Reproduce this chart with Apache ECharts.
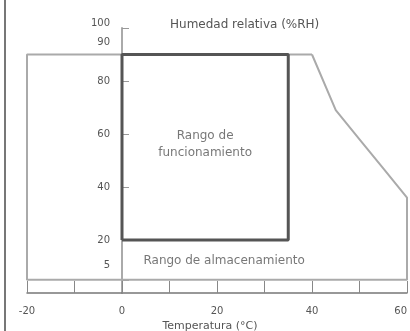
<!DOCTYPE html>
<html>
<head>
<meta charset="utf-8">
<script src="https://cdn.jsdelivr.net/npm/echarts@6/dist/echarts.min.js"></script>
<style>
  html, body { margin: 0; padding: 0; background: #fff; }
  #chart { width: 410px; height: 331px; }
</style>
</head>
<body>
<div id="chart"></div>
<script>
// valores
const xTicks = [-20, -10, 0, 10, 20, 30, 40, 50, 60]
const xLabels = [-20, 0, 20, 40, 60]
const yLabels = [5, 20, 40, 60, 80, 90, 100]

// rango de almacenamiento (temperatura, humedad)
const storageTemp = [40, 45, 50, 55, 60, 60, -20, -20, 40]
const storageHum = [90, 69, 58, 47, 36, 5, 5, 90, 90]

// rango de funcionamiento
const operTemp = [0, 0, 35, 35, 0]
const operHum = [20, 90, 90, 20, 20]

const textColor = '#555'
const font = 'DejaVu Sans'

const chart = echarts.init(document.getElementById('chart'))

const option = {
  animation: false,
  textStyle: { fontFamily: font },
  title: {
    text: 'Humedad relativa (%RH)',
    left: 165,
    top: 14,
    textStyle: { fontSize: 12, fontWeight: 'normal', color: textColor, fontFamily: font },
  },
  grid: {
    left: 27,
    right: 3,
    top: 28,
    bottom: 38,
    outerBoundsMode: 'none',
  },
  xAxis: {
    type: 'value',
    min: -20,
    max: 60,
    interval: 10,
    name: 'Temperatura (°C)',
    nameLocation: 'middle',
    nameGap: 25,
    nameTextStyle: { fontSize: 11, color: textColor, padding: [0, 14, 0, 0] },
    axisLine: { lineStyle: { color: '#777', width: 1.5 } },
    axisTick: {
      inside: true,
      length: 12,
      customValues: xTicks,
      lineStyle: { color: '#888' },
    },
    axisLabel: {
      customValues: xLabels,
      fontSize: 10,
      color: textColor,
      margin: 13,
      alignMaxLabel: 'right',
    },
    splitLine: { show: false },
  },
  yAxis: {
    type: 'value',
    min: 0,
    max: 100,
    position: 'left',
    offset: -95, // eje en 0 °C
    axisLine: { show: true, onZero: false, lineStyle: { color: '#aaa', width: 2 } },
    axisTick: {
      show: true,
      inside: true,
      length: 7,
      customValues: yLabels,
      lineStyle: { color: '#999' },
    },
    axisLabel: {
      customValues: yLabels,
      fontSize: 10,
      color: textColor,
      margin: 12,
      formatter: function (v) {
        if (v === 90) return '{up|90}'
        if (v === 5) return '{up2|5}'
        if (v === 100) return '{up3|100}'
        return '' + v
      },
      rich: {
        up: { fontSize: 10, color: textColor, padding: [0, 0, 24, 0] },
        up2: { fontSize: 10, color: textColor, padding: [0, 0, 28, 0] },
        up3: { fontSize: 10, color: textColor, padding: [0, 0, 10, 0] },
      },
    },
    splitLine: { show: false },
  },
  graphic: [
    {
      type: 'line',
      shape: { x1: 5, y1: 0, x2: 5, y2: 331 },
      style: { stroke: '#777', lineWidth: 2 },
    },
  ],
  series: [
    {
      name: 'Rango de almacenamiento',
      type: 'line',
      data: storageTemp.map((t, i) => [t, storageHum[i]]),
      symbol: 'none',
      lineStyle: { color: '#aaa', width: 2 },
      z: 2,
    },
    {
      name: 'Rango de funcionamiento',
      type: 'line',
      data: operTemp.map((t, i) => [t, operHum[i]]),
      symbol: 'none',
      lineStyle: { color: '#555', width: 3 },
      z: 3,
    },
    {
      type: 'scatter',
      symbolSize: 0,
      silent: true,
      data: [
        { value: [17.5, 56], label: { formatter: 'Rango de\nfuncionamiento', lineHeight: 17 } },
        { value: [21.5, 12], label: { formatter: 'Rango de almacenamiento' } },
      ],
      label: {
        show: true,
        position: 'inside',
        fontSize: 12,
        color: textColor,
        fontFamily: font,
      },
    },
  ],
}

chart.setOption(option)
</script>
</body>
</html>
